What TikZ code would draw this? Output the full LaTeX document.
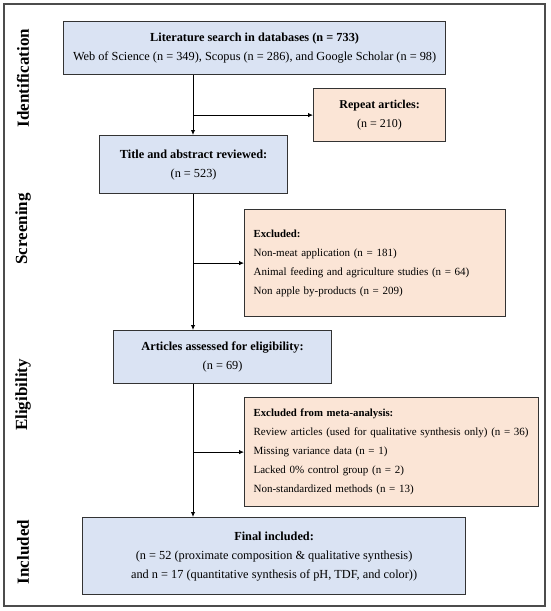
\documentclass[tikz,border=0pt]{standalone}
\usepackage{fontspec}
\setmainfont{Liberation Serif}
\usetikzlibrary{arrows.meta}
\definecolor{boxblue}{HTML}{DAE3F3}
\definecolor{boxpeach}{HTML}{FBE5D6}
\definecolor{edge}{HTML}{333333}
\begin{document}
\begin{tikzpicture}[x=1pt,y=-1pt, font=\fontsize{12.3}{19}\selectfont,
  box/.style={draw=edge, line width=1.2pt, anchor=north west, inner sep=0pt, align=center},
  bluebox/.style={box, fill=boxblue},
  peachbox/.style={box, fill=boxpeach},
  listbox/.style={peachbox, align=left, font=\fontsize{11}{19}\selectfont},
  phase/.style={rotate=90, font=\fontsize{17}{19}\selectfont\bfseries},
  arr/.style={draw=black, line width=0.9pt, -{Latex[length=5pt,width=4.5pt]}}]
\useasboundingbox (0,0) rectangle (550,611);
\draw[line width=1.2pt, draw=black!70] (4,4) rectangle (545,606);

\node[phase] (pid) at (23,78) {Identification};
\node[phase] (psc) at (23,229) {Screening};
\node[phase] (pel) at (23,395) {Eligibility};
\node[phase] (pin) at (23,552) {Included};

\node[bluebox, minimum width=382pt, minimum height=53pt] (top) at (63,21)
  {\textbf{Literature search in databases (n = 733)}\\Web of Science (n = 349), Scopus (n = 286), and Google Scholar (n = 98)};
\node[peachbox, minimum width=132pt, minimum height=53pt, font=\fontsize{12}{19}\selectfont] (rep) at (313,88)
  {\textbf{Repeat articles:}\\(n = 210)};
\node[bluebox, minimum width=188pt, minimum height=58pt] (title) at (99,135)
  {\textbf{Title and abstract reviewed:}\\(n = 523)};
\node[listbox, minimum width=261pt, minimum height=107pt, text width=243pt] (excl) at (244,209)
  {{\fontsize{10.8}{19}\selectfont\textbf{Excluded:}}\\Non-meat application (n = 181)\\Animal feeding and agriculture studies (n = 64)\\Non apple by-products (n = 209)};
\node[bluebox, minimum width=218pt, minimum height=53pt] (elig) at (113,330)
  {\textbf{Articles assessed for eligibility:}\\(n = 69)};
\node[listbox, minimum width=294pt, minimum height=109pt, text width=276pt] (meta) at (244,397)
  {{\fontsize{10.8}{19}\selectfont\textbf{Excluded from meta-analysis:}}\\Review articles (used for qualitative synthesis only) (n = 36)\\Missing variance data (n = 1)\\Lacked 0\% control group (n = 2)\\Non-standardized methods (n = 13)};
\node[bluebox, minimum width=383pt, minimum height=77pt] (final) at (82,517)
  {\textbf{Final included:}\\(n = 52 (proximate composition \& qualitative synthesis)\\and n = 17 (quantitative synthesis of pH, TDF, and color))};

\coordinate (sp) at (193,0);
\draw[arr] (top.south -| sp) -- (title.north -| sp);
\draw[arr] (sp |- rep.west) -- (rep.west);
\draw[arr] (title.south -| sp) -- (elig.north -| sp);
\draw[arr] (sp |- excl.west) -- (excl.west);
\draw[arr] (elig.south -| sp) -- (final.north -| sp);
\draw[arr] (sp |- meta.west) -- (meta.west);
\end{tikzpicture}
\end{document}
